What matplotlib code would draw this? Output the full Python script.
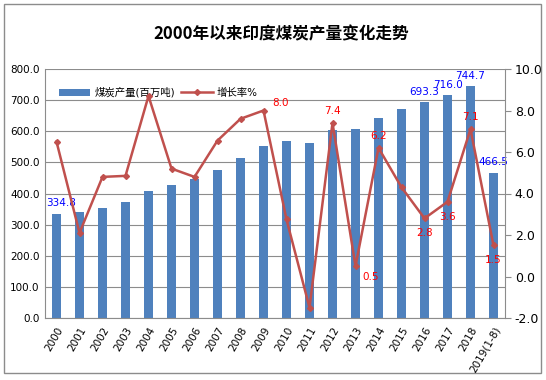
import matplotlib

matplotlib.use("Agg")
import matplotlib.pyplot as plt  # noqa: E402
from matplotlib.patches import Rectangle  # noqa: E402

plt.rcParams["font.family"] = ["DejaVu Sans", "Noto Sans CJK SC"]

years = ["2000", "2001", "2002", "2003", "2004", "2005", "2006", "2007", "2008", "2009",
         "2010", "2011", "2012", "2013", "2014", "2015", "2016", "2017", "2018", "2019(1-8)"]
output = [334.8, 339, 354, 373, 407, 428, 447, 476, 515, 553,
          570, 563, 605, 608, 643, 672, 693.3, 716.0, 744.7, 466.5]
growth = [6.5, 2.1, 4.8, 4.85, 8.7, 5.2, 4.8, 6.55, 7.6, 8.0,
          2.75, -1.5, 7.4, 0.5, 6.2, 4.3, 2.8, 3.6, 7.1, 1.5]

bar_labeled = [0, 16, 17, 18, 19]
line_labeled = {9: (6, 2, "left", "bottom"), 12: (0, 5, "center", "bottom"),
                13: (5, -4, "left", "top"), 14: (0, 5, "center", "bottom"),
                16: (0, -7, "center", "top"), 17: (0, -7, "center", "top"),
                18: (0, 5, "center", "bottom"), 19: (0, -7, "center", "top")}

bar_color = "#4F81BD"
line_color = "#C0504D"
grid_color = "#8C8C8C"

fig = plt.figure(figsize=(5.46, 3.80), dpi=100)
fig.patches.append(Rectangle((4 / 546, 7 / 380), 537 / 546, 369 / 380, transform=fig.transFigure,
                             fill=False, edgecolor="#8C8C8C", linewidth=1.0))
ax = fig.add_axes([45 / 546, 62 / 380, 460 / 546, 249 / 380])
ax2 = ax.twinx()

x = list(range(len(years)))
ax.bar(x, output, width=0.38, color=bar_color, label="煤炭产量(百万吨)", zorder=2)
ax.set_ylim(0, 800)
ax.set_yticks([i * 100 for i in range(9)])
ax.set_yticklabels([f"{i * 100:.1f}" for i in range(9)])
ax.set_xlim(-0.5, len(years) - 0.5)
ax.set_xticks(x)
ax.set_xticklabels(years, rotation=60, ha="right", rotation_mode="anchor")
ax.grid(axis="y", color=grid_color, linewidth=0.8, zorder=0)
ax.set_axisbelow(True)
ax.tick_params(axis="y", length=0, labelsize=7.5, pad=4)
ax.tick_params(axis="x", length=0, labelsize=7.5, pad=5)
for side in ("top", "right"):
    ax.spines[side].set_visible(False)
ax.spines["left"].set_color(grid_color)
ax.spines["bottom"].set_color(grid_color)

for i in bar_labeled:
    dx = 3 if i == 0 else 0
    ax.annotate(f"{output[i]:.1f}", (x[i], output[i]), xytext=(dx, 4), textcoords="offset points",
                ha="center", va="bottom", fontsize=7.5, color="#0000FF")

ax2.plot(x, growth, color=line_color, linewidth=1.8, marker="D", markersize=3, label="增长率%", zorder=3)
ax2.set_ylim(-2, 10)
ax2.set_yticks(range(-2, 11, 2))
ax2.set_yticklabels([f"{v:.1f}" for v in range(-2, 11, 2)])
ax2.tick_params(axis="y", length=4, color=grid_color, labelsize=9, pad=3)
for side in ("top", "left", "bottom"):
    ax2.spines[side].set_visible(False)
ax2.spines["right"].set_color(grid_color)

for i, (dx, dy, ha, va) in line_labeled.items():
    ax2.annotate(f"{growth[i]:.1f}", (x[i], growth[i]), xytext=(dx, dy), textcoords="offset points",
                 ha=ha, va=va, fontsize=7.5, color="#FF0000")

h1, l1 = ax.get_legend_handles_labels()
h2, l2 = ax2.get_legend_handles_labels()
ax.legend(h1 + h2, l1 + l2, loc="center left", bbox_to_anchor=(0.01, 0.905), ncol=2, frameon=False,
          fontsize=7.5, handlelength=3, columnspacing=0.6, handletextpad=0.4)

fig.text(0.515, 0.91, "2000年以来印度煤炭产量变化走势", ha="center", va="center",
         fontsize=12, fontweight="bold", family=["Noto Sans CJK SC", "DejaVu Sans"])

fig.savefig("out.png", dpi=100, facecolor="white")
